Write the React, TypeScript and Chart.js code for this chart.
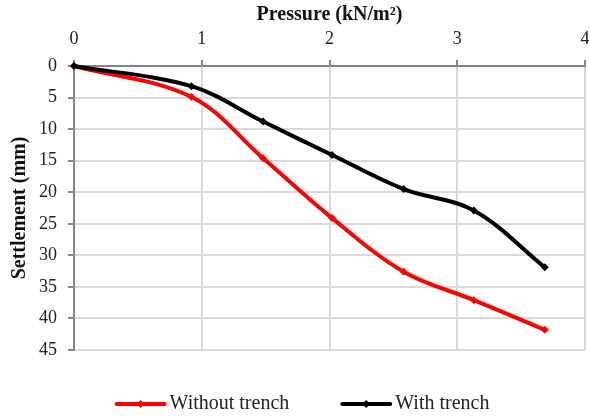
import React, { useEffect, useRef } from "react";
import { Chart, registerables } from "chart.js";

Chart.register(...registerables);

const pressure = [0, 0.92, 1.48, 2.02, 2.58, 3.13, 3.685];
const withoutTrench = [0, 4.9, 14.6, 24.1, 32.6, 37.1, 41.8];
const withTrench = [0, 3.2, 8.8, 14.1, 19.5, 22.9, 31.9];
const seriesNames = ["Without trench", "With trench"];
const seriesColors = ["#ff0000", "#000000"];
const xTitle = "Pressure (kN/m\u00b2)";
const yTitle = "Settlement (mm)";

const SERIF = "'Liberation Serif', 'Times New Roman', serif";

const legendPlugin = {
  id: "customLegend",
  afterDraw(chart: any) {
    const ctx = chart.ctx;
    const ds = chart.data.datasets;
    const lineLen = 52;
    const gapText = 3;
    const gapItems = 51;
    const y = 404;
    ctx.save();
    ctx.font = "20px " + SERIF;
    const widths = ds.map((d: any) => ctx.measureText(d.label).width);
    let total = 0;
    ds.forEach((_: any, i: number) => {
      total += lineLen + gapText + widths[i];
      if (i < ds.length - 1) total += gapItems;
    });
    let x = 302 - total / 2;
    ds.forEach((d: any, i: number) => {
      ctx.strokeStyle = d.borderColor;
      ctx.lineWidth = d.borderWidth;
      ctx.lineCap = "round";
      ctx.beginPath();
      ctx.moveTo(x + 2, y);
      ctx.lineTo(x + lineLen - 2, y);
      ctx.stroke();
      const cx = x + lineLen / 2;
      ctx.fillStyle = d.borderColor;
      ctx.beginPath();
      ctx.moveTo(cx, y - 4);
      ctx.lineTo(cx + 4, y);
      ctx.lineTo(cx, y + 4);
      ctx.lineTo(cx - 4, y);
      ctx.closePath();
      ctx.fill();
      ctx.fillStyle = "#222222";
      ctx.textBaseline = "middle";
      ctx.textAlign = "left";
      ctx.fillText(d.label, x + lineLen + gapText, y);
      x += lineLen + gapText + widths[i] + gapItems;
    });
    ctx.restore();
  },
};

export default function App() {
  const ref = useRef<HTMLCanvasElement | null>(null);

  useEffect(() => {
    if (!ref.current) return;
    const mk = (vals: number[]) => pressure.map((p, i) => ({ x: p, y: vals[i] }));
    const chart = new Chart(ref.current, {
      type: "line",
      data: {
        datasets: [
          {
            label: seriesNames[0],
            data: mk(withoutTrench),
            borderColor: seriesColors[0],
            backgroundColor: seriesColors[0],
            borderWidth: 4,
            tension: 0.35,
            pointStyle: "rectRot",
            pointRadius: 4,
            pointBorderWidth: 0,
            order: 1,
            clip: false as any,
          },
          {
            label: seriesNames[1],
            data: mk(withTrench),
            borderColor: seriesColors[1],
            backgroundColor: seriesColors[1],
            borderWidth: 4,
            tension: 0.35,
            pointStyle: "rectRot",
            pointRadius: 4,
            pointBorderWidth: 0,
            order: 0,
            clip: false as any,
          },
        ],
      },
      options: {
        animation: false,
        responsive: false,
        maintainAspectRatio: false,
        layout: { padding: { left: 0, right: 3, top: 0, bottom: 66 } },
        plugins: {
          legend: { display: false },
          tooltip: { enabled: false },
        },
        scales: {
          x: {
            type: "linear",
            position: "top",
            min: 0,
            max: 4,
            ticks: {
              stepSize: 1,
              color: "#222222",
              font: { family: SERIF, size: 18 },
              padding: 10,
              maxRotation: 0,
            },
            grid: {
              color: "#d9d9d9",
              lineWidth: 2,
              tickColor: "#868686",
              tickLength: 6,
            },
            border: { color: "#868686", width: 2 },
            title: {
              display: true,
              text: xTitle,
              color: "#111111",
              font: { family: SERIF, size: 20, weight: "bold" },
              padding: { top: 3, bottom: 0 },
            },
            afterFit(scale: any) {
              scale.height = 66;
              scale.paddingLeft = 0;
              scale.paddingRight = 0;
            },
          },
          y: {
            type: "linear",
            reverse: true,
            min: 0,
            max: 45,
            ticks: {
              stepSize: 5,
              color: "#222222",
              font: { family: SERIF, size: 18 },
              padding: 11,
            },
            grid: {
              color: "#d9d9d9",
              lineWidth: 2,
              tickColor: "#868686",
              tickLength: 6,
            },
            border: { color: "#868686", width: 2 },
            title: {
              display: true,
              text: yTitle,
              color: "#111111",
              font: { family: SERIF, size: 20, weight: "bold" },
              padding: { top: 8, bottom: 0 },
            },
            afterFit(scale: any) {
              scale.width = 74;
              scale.paddingTop = 0;
              scale.paddingBottom = 0;
            },
          },
        },
      },
      plugins: [legendPlugin],
    });
    return () => chart.destroy();
  }, []);

  return (
    <div style={{ position: "absolute", left: 0, top: 0, width: 589, height: 416, background: "#ffffff" }}>
      <canvas ref={ref} width={589} height={416} style={{ width: 589, height: 416 }} />
    </div>
  );
}
